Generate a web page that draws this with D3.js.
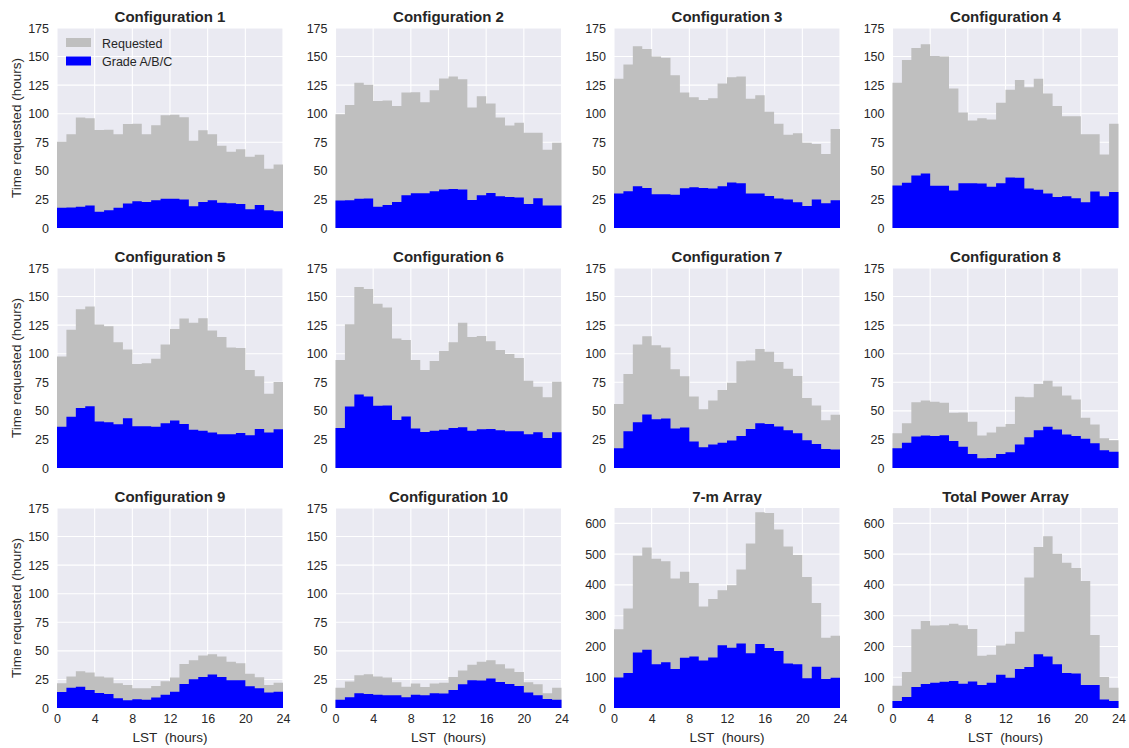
<!DOCTYPE html>
<html>
<head>
<meta charset="utf-8">
<script src="https://cdn.jsdelivr.net/npm/d3@7"></script>
<style>
  body { margin: 0; background: #ffffff; }
  svg { display: block; }
  text { font-family: "Liberation Sans", Arial, Helvetica, sans-serif; }
</style>
</head>
<body>
<svg id="chart" width="1129" height="748"></svg>
<script>
// Hourly LST bins (0–24 h), one value per bin
const binEdges = d3.range(0, 25);
const xTicks = [0, 4, 8, 12, 16, 20, 24];
const configTicks = [0, 25, 50, 75, 100, 125, 150, 175];
const arrayTicks = [0, 100, 200, 300, 400, 500, 600];

const titles = ["Configuration 1", "Configuration 2", "Configuration 3", "Configuration 4",
                "Configuration 5", "Configuration 6", "Configuration 7", "Configuration 8",
                "Configuration 9", "Configuration 10", "7-m Array", "Total Power Array"];

const config1Requested = [75.5, 82, 96.6, 96, 85.7, 86, 82, 91, 91.3, 82, 90, 98.6, 99, 97, 76.4, 85.5, 82, 72, 66.7, 68.8, 62.3, 64, 51.8, 55.6];
const config1Grade     = [17.8, 18, 18.7, 19.6, 14.3, 15.5, 17.8, 21.4, 23.4, 22.8, 24.3, 25.5, 25.5, 25, 19, 22.8, 24.3, 22.2, 21.7, 21, 16.4, 20.2, 15.5, 14.6];

const config2Requested = [99.5, 107.7, 127, 125.3, 111.2, 111.5, 106.8, 118.5, 118.8, 110, 120.6, 130.8, 132.6, 130.2, 105.4, 115.3, 108.9, 96.6, 89.6, 92.2, 83.4, 83.4, 68.5, 74.6];
const config2Grade     = [24, 24.3, 25.5, 25.8, 18.7, 20.2, 22.8, 28.7, 30.4, 30.4, 32.2, 33.7, 34.2, 33.7, 24.6, 28.7, 30.7, 27.8, 27.2, 26.6, 21, 26, 19.6, 19.6];

const config3Requested = [130.5, 143, 159, 156.6, 150, 149, 133.7, 118.5, 114.4, 112, 113.5, 126.4, 132, 132.6, 113, 116.2, 101.8, 91.3, 81.6, 82.8, 74.6, 73.5, 64.7, 86.6];
const config3Grade     = [30.1, 32.2, 36.6, 35, 29.6, 29.6, 29, 34.8, 35.7, 35, 34.5, 36.6, 39.8, 39.2, 30.1, 30.1, 28, 25.8, 25, 22.5, 19.3, 25, 21.7, 24.3];

const config4Requested = [127, 147, 157.4, 160.7, 150.4, 150, 122, 101, 94, 96, 95, 109.7, 120.9, 129.6, 123.2, 130.5, 117.6, 106.8, 97.7, 97.7, 82, 82, 64.4, 91.3];
const config4Grade     = [37.2, 39.5, 46, 47.7, 36.9, 36.9, 32.8, 39.2, 39.2, 38.9, 36, 39.2, 44.2, 43.9, 34.5, 33.4, 30.1, 27.2, 27.8, 26, 22.5, 31.9, 27.8, 31.6];

const config5Requested = [97.5, 120.9, 139, 141.4, 125.6, 124, 110, 103.6, 91, 91.6, 95.7, 108, 121.7, 130.8, 127, 131, 120.3, 114.7, 105.4, 105, 85.7, 80.2, 65, 75.2];
const config5Grade     = [36, 44.8, 52.4, 54.1, 40.7, 40.1, 38.3, 43.6, 36.6, 36.6, 36, 39.2, 41.6, 38.6, 33.4, 32.5, 31, 29.6, 29.6, 30.7, 28.7, 34.2, 31, 33.9];

const config6Requested = [94.5, 125.8, 158.3, 156.6, 143.7, 140.5, 113.3, 112, 94.5, 85.7, 93.6, 102.4, 110, 127, 114.7, 115.6, 111, 103.3, 99.8, 96.3, 76.4, 71.1, 61.8, 75.5];
const config6Grade     = [35, 53.8, 64.4, 62.6, 54.4, 54.7, 42.1, 45.1, 34.5, 31.6, 32.5, 33.4, 35, 35.7, 32.5, 33.9, 34.2, 33.1, 32.2, 32.2, 29.6, 31.3, 26.3, 31.3];

const config7Requested = [55.9, 82.2, 108, 115.3, 107.4, 105.4, 86.3, 80.2, 62.6, 51.5, 59.1, 68.2, 74.6, 93.4, 94, 104.2, 101.8, 92.8, 86.9, 80.5, 61.2, 54.7, 41.8, 46.5];
const config7Grade     = [17.3, 32.2, 40.1, 46.8, 42.7, 43.3, 34.5, 35.4, 23.1, 18.1, 20.5, 22.2, 24, 28.1, 34.2, 39.2, 38.6, 36.3, 33.1, 30.4, 24.3, 21, 16.7, 16.1];

const config8Requested = [30.4, 39.2, 57.6, 59.1, 57.9, 57, 48.3, 48.6, 40.4, 28.4, 31, 36, 38.6, 62.3, 61.8, 73.5, 76.4, 71.4, 63.5, 60, 43.9, 38, 26, 24.3];
const config8Grade     = [17.3, 22.2, 27.5, 28.4, 28.1, 28.7, 23.7, 18.7, 12.3, 8.5, 8.8, 12.3, 13.8, 20.5, 26.9, 33.1, 36, 33.7, 29.3, 28.1, 25.5, 21.7, 15.5, 14.3];

const config9Requested = [21.7, 27.5, 32.2, 31, 27.5, 26.6, 21.7, 20.2, 17.3, 17.3, 19.3, 23.4, 26.6, 38.6, 41.8, 46, 47.1, 45.1, 40.4, 39.2, 29.9, 26.9, 20.2, 22.2];
const config9Grade     = [14, 17.8, 18.7, 15.8, 13.2, 12.3, 8.5, 6.7, 7.6, 7.3, 9.1, 11.7, 14.3, 21, 25.2, 27.2, 29.3, 27.2, 24.3, 24.3, 19, 17.3, 13.5, 14.3];

const config10Requested = [17.8, 23.1, 28.7, 29.6, 27.5, 26.6, 22.5, 18.7, 21.4, 18.4, 21.4, 22.2, 27.2, 32.8, 37.8, 40.4, 41.8, 38.3, 34.5, 31.6, 22.5, 20.8, 12.9, 17.8];
const config10Grade     = [7.3, 9.4, 12.9, 12.3, 11.7, 11.1, 11.1, 9.4, 11.7, 11.1, 12.9, 12.6, 15.8, 20.8, 24.3, 24, 25.8, 22.8, 21, 19.3, 13.5, 11.1, 7.9, 7.3];

const sevenMRequested = [256, 323, 495, 522, 485, 477, 421, 443, 406, 330, 354, 383, 399, 450, 535, 636, 634, 580, 525, 497, 426, 341, 228, 235];
const sevenMGrade     = [99, 114, 180, 189, 142, 149, 127, 163, 167, 154, 164, 204, 196, 210, 178, 208, 195, 185, 145, 142, 97, 134, 94, 98];

const totalPowerRequested = [72, 117, 256, 283, 268, 269, 274, 269, 257, 170, 173, 203, 209, 248, 424, 523, 558, 501, 472, 455, 413, 237, 101, 66];
const totalPowerGrade     = [23, 36, 68, 78, 82, 85, 88, 79, 86, 75, 82, 108, 98, 127, 133, 175, 167, 142, 114, 112, 75, 75, 28, 23];

const requestedSeries = [config1Requested, config2Requested, config3Requested, config4Requested,
                         config5Requested, config6Requested, config7Requested, config8Requested,
                         config9Requested, config10Requested, sevenMRequested, totalPowerRequested];
const gradeSeries = [config1Grade, config2Grade, config3Grade, config4Grade,
                     config5Grade, config6Grade, config7Grade, config8Grade,
                     config9Grade, config10Grade, sevenMGrade, totalPowerGrade];
const yMaxes = [175, 175, 175, 175, 175, 175, 175, 175, 175, 175, 650, 650];

const legendLabels = ["Requested", "Grade A/B/C"];

// ----- layout -----
const colors = { requested: "#bfbfbf", grade: "#0000ff", bg: "#eaeaf2", text: "#262626" };
const plotW = 226, plotH = 200;
const colX = [57, 335.5, 614, 892.5];
const rowY = [28, 268, 508];
const fontFamily = '"Liberation Sans", Arial, sans-serif';

const svg = d3.select("#chart");

// step-shaped histogram outline: each bin holds its value until the next edge
function stepData(values) {
  const pts = values.map((v, i) => ({ x: binEdges[i], v }));
  pts.push({ x: binEdges[values.length], v: values[values.length - 1] });
  return pts;
}

titles.forEach((title, k) => {
  const col = k % 4, row = Math.floor(k / 4);
  const g = svg.append("g").attr("transform", `translate(${colX[col]},${rowY[row]})`);

  const x = d3.scaleLinear().domain([0, 24]).range([0, plotW]);
  const y = d3.scaleLinear().domain([0, yMaxes[k]]).range([plotH, 0]);
  const yt = yMaxes[k] > 200 ? arrayTicks : configTicks;

  g.append("rect").attr("width", plotW).attr("height", plotH).attr("fill", colors.bg);

  // grid
  g.append("g").selectAll("line").data(yt).join("line")
    .attr("x1", 0).attr("x2", plotW)
    .attr("y1", d => y(d)).attr("y2", d => y(d))
    .attr("stroke", "#ffffff").attr("stroke-width", 1.1);
  g.append("g").selectAll("line").data(xTicks).join("line")
    .attr("y1", 0).attr("y2", plotH)
    .attr("x1", d => x(d)).attr("x2", d => x(d))
    .attr("stroke", "#ffffff").attr("stroke-width", 1.1);

  const area = d3.area()
    .x(d => x(d.x)).y0(y(0)).y1(d => y(d.v))
    .curve(d3.curveStepAfter);

  g.append("path").datum(stepData(requestedSeries[k]))
    .attr("d", area).attr("fill", colors.requested);
  g.append("path").datum(stepData(gradeSeries[k]))
    .attr("d", area).attr("fill", colors.grade);

  // y axis
  const yAxis = g.append("g")
    .call(d3.axisLeft(y).tickValues(yt).tickSize(0).tickPadding(8));
  yAxis.select(".domain").remove();
  yAxis.selectAll("text").attr("font-size", 12.5).attr("fill", colors.text)
    .style("font-family", fontFamily);

  // x axis labels on the bottom row only
  if (row === 2) {
    const xAxis = g.append("g").attr("transform", `translate(0,${plotH})`)
      .call(d3.axisBottom(x).tickValues(xTicks).tickSize(0).tickPadding(6));
    xAxis.select(".domain").remove();
    xAxis.selectAll("text").attr("font-size", 12.5).attr("fill", colors.text)
      .style("font-family", fontFamily);
    g.append("text")
      .attr("x", plotW / 2).attr("y", plotH + 34)
      .attr("text-anchor", "middle").attr("font-size", 13.5).attr("fill", colors.text)
      .text("LST\u00a0\u00a0(hours)");
  }

  // y label on the first column
  if (col === 0) {
    g.append("text")
      .attr("transform", `translate(-36,${plotH / 2}) rotate(-90)`)
      .attr("text-anchor", "middle").attr("font-size", 13.5).attr("fill", colors.text)
      .text("Time requested (hours)");
  }

  // panel title
  g.append("text")
    .attr("x", plotW / 2).attr("y", -6)
    .attr("text-anchor", "middle").attr("font-size", 15).attr("font-weight", "bold")
    .attr("fill", colors.text)
    .text(title);

  // legend in the first panel
  if (k === 0) {
    const leg = g.append("g").attr("transform", "translate(9,10)");
    const legColors = [colors.requested, colors.grade];
    legendLabels.forEach((lab, i) => {
      leg.append("rect").attr("x", 0).attr("y", i * 18.5)
        .attr("width", 25).attr("height", 9).attr("fill", legColors[i]);
      leg.append("text").attr("x", 36).attr("y", i * 18.5 + 9.5)
        .attr("font-size", 12.5).attr("fill", colors.text).text(lab);
    });
  }
});
</script>
</body>
</html>
